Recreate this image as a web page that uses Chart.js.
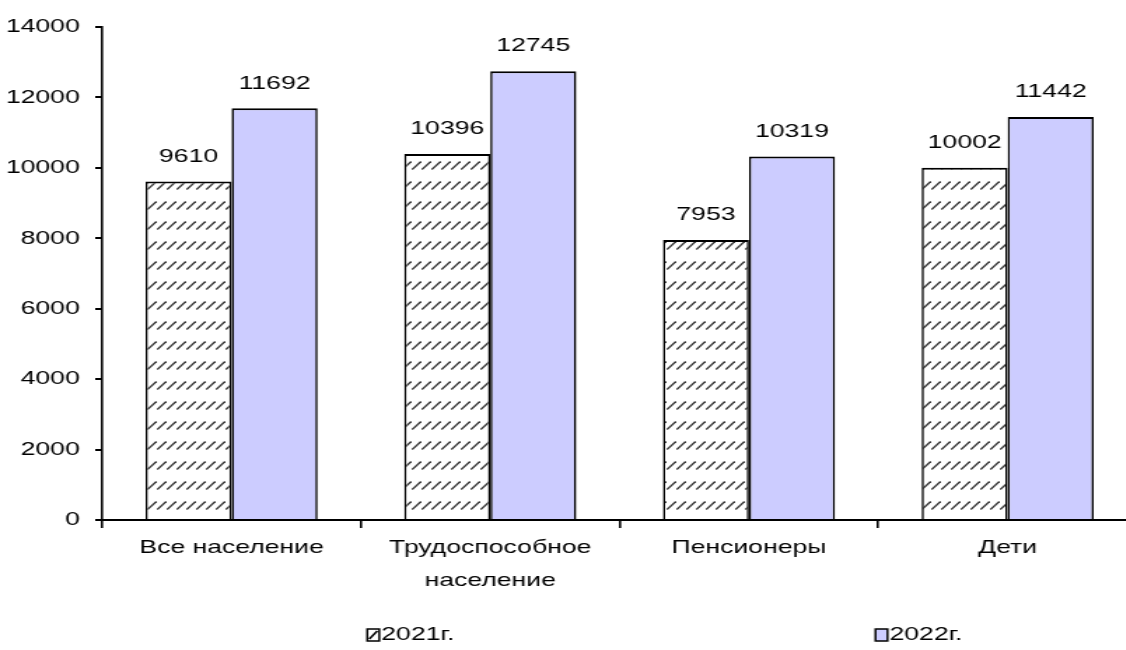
<!DOCTYPE html>
<html>
<head>
<meta charset="utf-8">
<style>
  html, body { margin: 0; padding: 0; background: #fff; overflow: hidden; }
  #wrap { width: 1126px; height: 650px; overflow: hidden; }
</style>
<script src="https://cdn.jsdelivr.net/npm/chart.js@4/dist/chart.umd.min.js"></script>
</head>
<body>
<!-- the reference is stretched sideways, so draw narrow and stretch with css -->
<div id="wrap"><canvas id="chart" width="812" height="650" style="width:1137px;height:650px;display:block"></canvas></div>
<script>
// data
const categories = ['Все население', ['Трудоспособное', 'население'], 'Пенсионеры', 'Дети'];
const seriesNames = ['2021г.', '2022г.'];
const values2021 = [9610, 10396, 7953, 10002];
const values2022 = [11692, 12745, 10319, 11442];
const yTicks = [0, 2000, 4000, 6000, 8000, 10000, 12000, 14000];

const SX = 1137 / 812;          // horizontal stretch of the canvas
const FONT = "'Liberation Sans', Arial, sans-serif";
const FSIZE = 19;

// hatch pattern for 2021 (short diagonal dashes in rows)
function makeHatch() {
    const c = document.createElement('canvas');
    c.width = 7;
    c.height = 20;
    const g = c.getContext('2d');
    g.fillStyle = '#fff';
    g.fillRect(0, 0, 7, 20);
    g.strokeStyle = '#3a3a3a';
    g.lineWidth = 1.3;
    g.beginPath();
    g.moveTo(0.3, 9.5);
    g.lineTo(6.7, 1.5);
    g.stroke();
    return g.createPattern(c, 'repeat');
}

const hVert = 1.6;   // line width for vertical strokes (gets stretched)

// value labels above bars
const valueLabels = {
    id: 'valueLabels',
    afterDatasetsDraw(chart) {
        const ctx = chart.ctx;
        ctx.save();
        ctx.font = FSIZE + 'px ' + FONT;
        ctx.fillStyle = '#000';
        ctx.textAlign = 'center';
        ctx.textBaseline = 'middle';
        chart.data.datasets.forEach((ds, i) => {
            chart.getDatasetMeta(i).data.forEach((bar, j) => {
                ctx.fillText(String(ds.data[j]), bar.x, bar.y - 25);
            });
        });
        ctx.restore();
    }
};

// legend drawn Excel style, items spread out
const spreadLegend = {
    id: 'spreadLegend',
    afterDraw(chart) {
        const ctx = chart.ctx;
        const starts = [0.323, 0.77];
        const y = 635;
        const bw = 12 / SX;
        ctx.save();
        ctx.font = FSIZE + 'px ' + FONT;
        ctx.textBaseline = 'middle';
        ctx.textAlign = 'left';
        chart.data.datasets.forEach((ds, i) => {
            const x = starts[i] * chart.width;
            ctx.fillStyle = i === 0 ? '#fff' : ds.backgroundColor;
            ctx.fillRect(x, y - 6, bw, 12);
            ctx.strokeStyle = '#000';
            ctx.lineWidth = 1.5;
            if (i === 0) {
                ctx.beginPath();
                ctx.moveTo(x + 2 / SX, y + 4);
                ctx.lineTo(x + bw - 2 / SX, y - 4);
                ctx.stroke();
            }
            ctx.strokeRect(x, y - 6, bw, 12);
            ctx.fillStyle = '#000';
            ctx.fillText(ds.label, x + bw + 2 / SX, y);
        });
        ctx.restore();
    }
};

const ctx = document.getElementById('chart').getContext('2d');
const chart = new Chart(ctx, {
    type: 'bar',
    data: {
        labels: categories,
        datasets: [{
            label: seriesNames[0],
            data: values2021,
            backgroundColor: makeHatch(),
            borderColor: '#000',
            borderWidth: { top: 2, bottom: 0, left: hVert, right: hVert },
            borderSkipped: false
        }, {
            label: seriesNames[1],
            data: values2022,
            backgroundColor: '#CCCCFF',
            borderColor: '#000',
            borderWidth: { top: 2, bottom: 0, left: hVert, right: hVert },
            borderSkipped: false
        }]
    },
    options: {
        responsive: false,
        animation: false,
        devicePixelRatio: 1,
        categoryPercentage: 0.665,
        barPercentage: 1,
        layout: { padding: { top: 27, left: 0, right: 0, bottom: 0 } },
        plugins: {
            legend: { display: false },
            tooltip: { enabled: false }
        },
        scales: {
            x: {
                grid: {
                    offset: true,
                    drawOnChartArea: false,
                    tickLength: 8,
                    color: '#000',
                    lineWidth: hVert
                },
                border: { color: '#000', width: 2 },
                ticks: {
                    color: '#000',
                    padding: 4,
                    maxRotation: 0,
                    autoSkip: false,
                    font: { family: FONT, size: FSIZE, lineHeight: 1.7 }
                },
                afterFit(scale) { scale.height = 130; }
            },
            y: {
                min: 0,
                max: 14000,
                afterBuildTicks(scale) {
                    scale.ticks = yTicks.map(v => ({ value: v }));
                },
                grid: {
                    drawOnChartArea: false,
                    tickLength: 5,
                    color: '#000',
                    lineWidth: 2
                },
                border: { color: '#000', width: hVert },
                ticks: {
                    color: '#000',
                    padding: 11,
                    font: { family: FONT, size: FSIZE },
                    callback: (v) => String(v)
                },
                afterFit(scale) { scale.width = 73; }
            }
        }
    },
    plugins: [valueLabels, spreadLegend]
});
</script>
</body>
</html>
